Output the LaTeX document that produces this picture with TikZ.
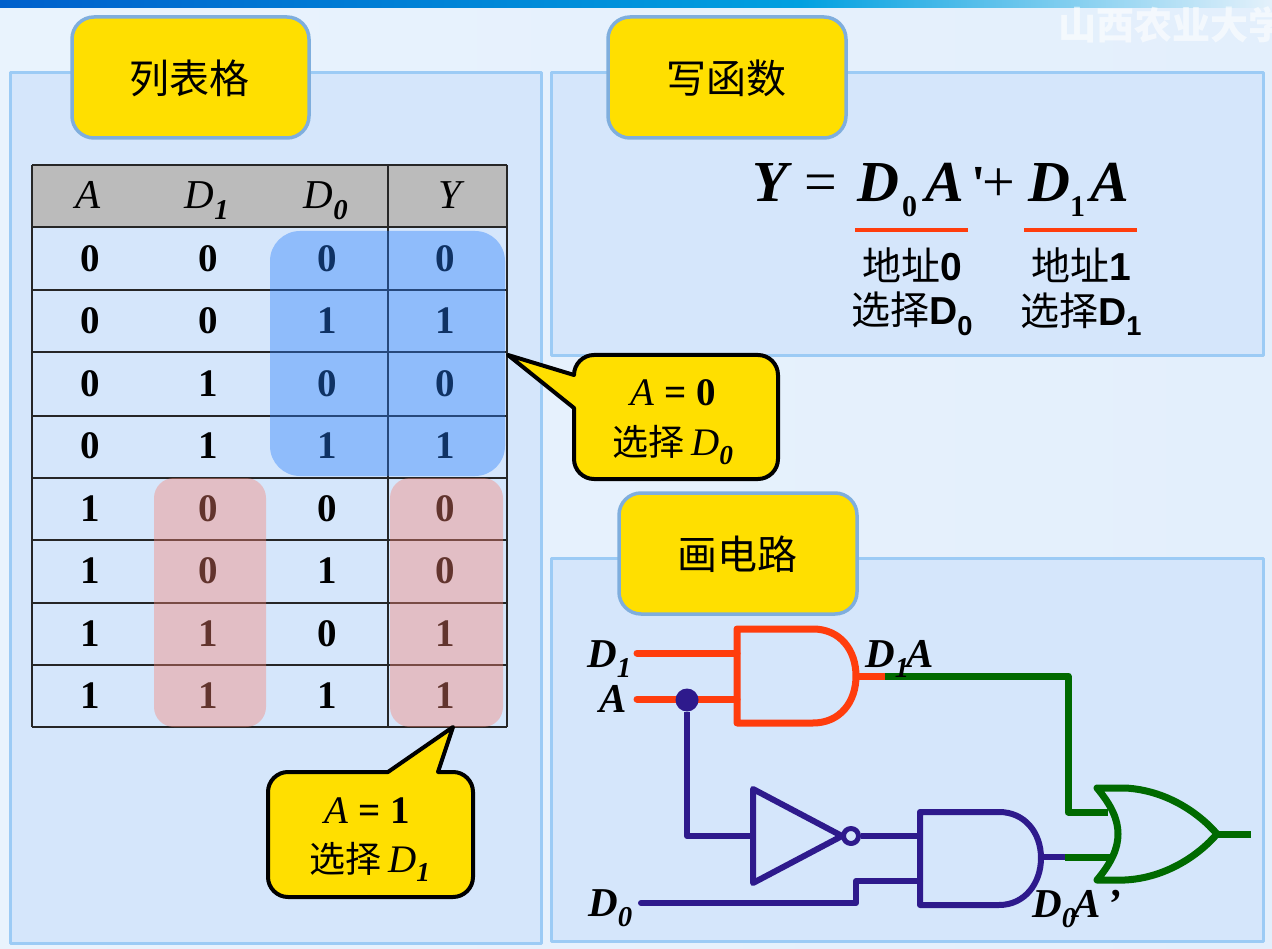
\documentclass[tikz,border=0pt]{standalone}
\usepackage{fontspec}
\setmainfont{Liberation Serif}
\setsansfont{Liberation Sans}
\newfontfamily\cjk{Noto Sans CJK SC}
\newfontfamily\tickfont{Liberation Serif}
\usetikzlibrary{positioning}
\definecolor{backleft}{HTML}{E9F3FD}
\definecolor{backright}{HTML}{E3EFFC}
\definecolor{barleft}{HTML}{0060CC}
\definecolor{barmid}{HTML}{00A0E0}
\definecolor{barright}{HTML}{E4F1FB}
\definecolor{panelfill}{HTML}{D5E6FB}
\definecolor{panelline}{HTML}{9CCBF5}
\definecolor{tabfill}{HTML}{FFDF00}
\definecolor{tabline}{HTML}{7FAEDD}
\definecolor{headfill}{HTML}{BBBBBB}
\definecolor{redwire}{HTML}{FF3D0D}
\definecolor{bluewire}{HTML}{2E1A8C}
\definecolor{greenwire}{HTML}{006A00}
\newcommand{\fsize}[1]{\fontsize{#1}{#1}\selectfont}
\newcommand{\subD}[1]{\textit{D}\textsubscript{\textbf{\textit{#1}}}}
\begin{document}
\begin{tikzpicture}[x=1pt,y=-1pt,line join=round]
    \tikzstyle{panel}=[draw=panelline,fill=panelfill,line width=3pt]
    \tikzstyle{tabbox}=[draw=tabline,fill=tabfill,line width=3.5pt,rounded corners=22pt]
    \tikzstyle{tabtext}=[font=\cjk\fsize{40}]
    \tikzstyle{head}=[font=\fsize{41}\itshape,anchor=base,inner sep=0pt]
    \tikzstyle{digit}=[font=\fsize{39}\bfseries]
    \tikzstyle{balloon}=[draw=black,fill=tabfill,line width=4pt]
    \tikzstyle{baltext}=[font=\fsize{39},anchor=base,inner sep=0pt]
    \tikzstyle{eqn}=[font=\fsize{58}\bfseries\itshape,anchor=base west,inner sep=0pt]
    \tikzstyle{eqsub}=[font=\fsize{30}\bfseries,anchor=base west,inner sep=0pt]
    \tikzstyle{eqsign}=[font=\fsize{58},anchor=base west,inner sep=0pt]
    \tikzstyle{note}=[font=\cjk\fsize{39},align=center,inner sep=0pt]
    \tikzstyle{pinlabel}=[font=\fsize{41}\bfseries\itshape,anchor=base west,inner sep=0pt]
    \useasboundingbox (0,0) rectangle (1272,949);

    % backdrop
    \shade[left color=backleft,right color=backright] (0,0) rectangle (1272,949);
    \shade[left color=barleft,right color=barmid] (0,0) rectangle (800,8);
    \shade[left color=barmid,right color=barright] (800,0) rectangle (1272,8);
    \node[font=\cjk\bfseries\fsize{38},text=white,opacity=.6,anchor=west,inner sep=0pt] (mark) at (1058,25) {山西农业大学};

    % panels
    \draw[panel] (10,73) rectangle (541,943);
    \draw[panel] (551,73) rectangle (1263,356);
    \draw[panel] (551,558) rectangle (1263,941);

    \draw[tabbox] (72,17) rectangle (309,138);
    \draw[tabbox] (608,17) rectangle (846,138);
    \draw[tabbox] (619,493) rectangle (857,614);
    \node[tabtext] (tab-list) at (189,78) {列表格};
    \node[tabtext] (tab-func) at (726,78) {写函数};
    \node[tabtext] (tab-draw) at (737,554) {画电路};

    % truth table
    \fill[headfill] (32,165) rectangle (507,227);
    \node[head] (H-A) at (88,209) {A};
    \node[head] (H-1) at (207,209) {\subD{1}};
    \node[head] (H-0) at (326,209) {\subD{0}};
    \node[head] (H-Y) at (450,209) {Y};
    \foreach \row/\y/\a/\b/\c/\d in {1/259/0/0/0/0, 2/321/0/0/1/1, 3/384/0/1/0/0, 4/446/0/1/1/1,
                                     5/509/1/0/0/0, 6/571/1/0/1/0, 7/634/1/1/0/1, 8/696/1/1/1/1} {
        \node[digit] (C-\row-1) at (90,\y) {\a};
        \node[digit] (C-\row-2) at (208,\y) {\b};
        \node[digit] (C-\row-3) at (327,\y) {\c};
        \node[digit] (C-\row-4) at (445,\y) {\d};
    }
    \foreach \y in {165,227,290,352,416,478,540,603,665,727}
        \draw[line width=1.5pt,black!85] (32,\y) -- (507,\y);
    \foreach \x in {32,388,507}
        \draw[line width=1.5pt,black!85] (\x,165) -- (\x,727);

    \fill[fill={rgb,255:red,38;green,125;blue,252},fill opacity=.4,rounded corners=30pt] (270,231) rectangle (505,476);
    \fill[fill={rgb,255:red,247;green,132;blue,116},fill opacity=.4,rounded corners=20pt] (154,478) rectangle (266,727);
    \fill[fill={rgb,255:red,247;green,132;blue,116},fill opacity=.4,rounded corners=20pt] (390,478) rectangle (503,727);

    % balloons
    \draw[balloon] (508,355) -- (574,375) .. controls (574,364) and (583,355) .. (594,355) -- (758,355)
        .. controls (769,355) and (778,364) .. (778,375) -- (778,459) .. controls (778,470) and (769,479) .. (758,479)
        -- (594,479) .. controls (583,479) and (574,470) .. (574,459) -- (574,408) -- cycle;
    \node[baltext] (ball-0a) at (673,406) {\textit{A} \textbf{= 0}};
    \node[baltext] (ball-0b) at (673,455) {{\cjk\fsize{36}选择}\,\subD{0}};
    \draw[balloon] (453,727) -- (438,772) -- (453,772) .. controls (464,772) and (473,781) .. (473,792) -- (473,877)
        .. controls (473,888) and (464,897) .. (453,897) -- (288,897) .. controls (277,897) and (268,888) .. (268,877)
        -- (268,792) .. controls (268,781) and (277,772) .. (288,772) -- (388,772) -- cycle;
    \node[baltext] (ball-1a) at (367,823) {\textit{A} \textbf{= 1}};
    \node[baltext] (ball-1b) at (370,872) {{\cjk\fsize{36}选择}\,\subD{1}};

    % function
    \node[eqn] (eq-Y) at (752,202) {Y};
    \node[eqsign] (eq-eq) at (804,202) {=};
    \node[eqn] (eq-D0) at (857,202) {D};
    \node[eqsub] (eq-0) at (902,217) {0};
    \node[eqn] (eq-A0) at (925,202) {A};
    \node[eqsign,font=\tickfont\bfseries\fsize{52}] (eq-p) at (971,202) {'};
    \node[eqsign] (eq-plus) at (982,202) {+};
    \node[eqn] (eq-D1) at (1028,202) {D};
    \node[eqsub] (eq-1) at (1070,217) {1};
    \node[eqn] (eq-A1) at (1090,202) {A};
    \coordinate (line-a) at (855,230);
    \coordinate (line-b) at (968,230);
    \coordinate (line-c) at (1024,230);
    \coordinate (line-d) at (1137,230);
    \draw[redwire,line width=4.5pt] (line-a) -- (line-b);
    \draw[redwire,line width=4.5pt] (line-c) -- (line-d);
    \node[note] (addr-0) at (912,265) {地址{\sffamily\bfseries 0}};
    \node[note] (pick-0) at (912,314) {选择{\sffamily\bfseries D\textsubscript{0}}};
    \node[note] (addr-1) at (1081,265) {地址{\sffamily\bfseries 1}};
    \node[note] (pick-1) at (1081,314) {选择{\sffamily\bfseries D\textsubscript{1}}};

    % circuit, pins first
    \coordinate (in-D1) at (637,653);
    \coordinate (in-A) at (637,699);
    \coordinate (in-D0) at (641,903);
    \coordinate (and1-a) at (737,653);
    \coordinate (and1-b) at (737,699);
    \coordinate (and1-out) at (856,676);
    \coordinate (mid-1) at (885,676);
    \coordinate (or-a) at (1108,812);
    \coordinate (or-b) at (1112,857);
    \coordinate (or-out) at (1217,834);
    \coordinate (out) at (1251,834);
    \coordinate (inv-in) at (753,836);
    \coordinate (and0-a) at (920,836);
    \coordinate (and0-b) at (920,881);
    \coordinate (and0-out) at (1041,857);
    \coordinate (mid-0) at (1065,857);
    \coordinate (step-0) at (856,903);

    \draw[redwire,line width=7pt,line cap=round] (in-D1) -- (and1-a);
    \draw[redwire,line width=7pt,line cap=round] (in-A) -- (and1-b);
    \draw[redwire,line width=7pt] (737,629) -- (813,629) .. controls (840,629) and (856,650) .. (856,676)
        .. controls (856,702) and (840,723) .. (813,723) -- (737,723) -- cycle;
    \draw[redwire,line width=7pt] (and1-out) -- (mid-1);

    \draw[greenwire,line width=7pt] (mid-1) -- (1068,676) -- (1068,812) -- (or-a);
    \draw[greenwire,line width=7pt] (mid-0) -- (or-b);
    \draw[greenwire,line width=7pt] (or-out) -- (out);
    \draw[greenwire,line width=7pt] (1097,788) -- (1125,788) .. controls (1165,790) and (1198,812) .. (1217,834)
        .. controls (1198,856) and (1165,878) .. (1125,880) -- (1097,880)
        .. controls (1112,862) and (1118,848) .. (1118,834) .. controls (1118,820) and (1112,806) .. (1097,788) -- cycle;

    \node[circle,fill=bluewire,minimum width=23pt,inner sep=0pt] (dot) at (687,700) {};
    \draw[bluewire,line width=6pt] (dot) |- (inv-in);
    \draw[bluewire,line width=6pt] (753,789) -- (842,836) -- (753,883) -- cycle;
    \node[circle,draw=bluewire,line width=5pt,fill=panelfill,minimum size=15pt,inner sep=0pt] (bubble) at (851,836) {};
    \draw[bluewire,line width=6pt] (bubble) -- (and0-a);
    \draw[bluewire,line width=6pt] (920,812) -- (999,812) .. controls (1025,812) and (1041,833) .. (1041,858)
        .. controls (1041,883) and (1025,905) .. (999,905) -- (920,905) -- cycle;
    \draw[bluewire,line width=6pt] (and0-out) -- (mid-0);
    \draw[bluewire,line width=6pt,line cap=round] (in-D0) -- (step-0) |- (and0-b);

    \node[pinlabel] (lab-D1) at (587,667) {D\textsubscript{1}};
    \node[pinlabel] (lab-A) at (599,712) {A};
    \node[pinlabel] (lab-D0) at (588,916) {D\textsubscript{0}};
    \node[pinlabel] (lab-D1A) at (865,667) {D\textsubscript{1}\kern-3pt A};
    \node[pinlabel] (lab-D0A) at (1032,917) {D\textsubscript{0}\kern-3pt A\,'};
\end{tikzpicture}
\end{document}
